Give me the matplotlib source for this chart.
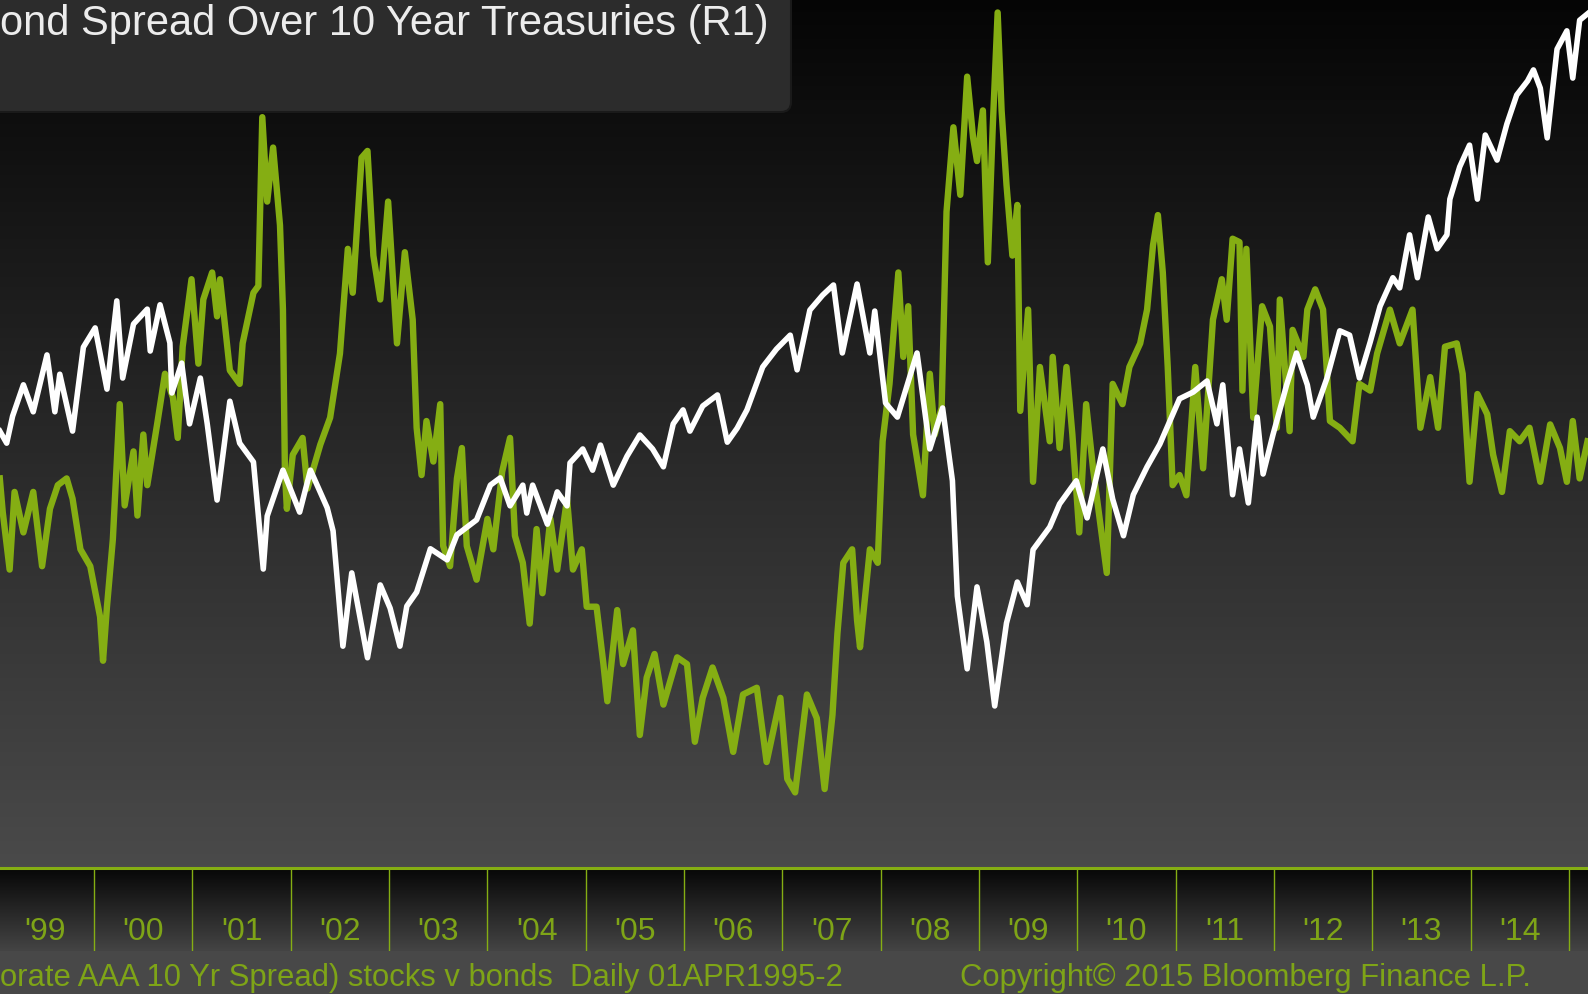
import numpy as np
import matplotlib.pyplot as plt
from matplotlib.colors import LinearSegmentedColormap
from matplotlib.patches import FancyBboxPatch

# S&P 500 style index (white line), decimal years
stock_years = [1999.04, 1999.11, 1999.17, 1999.28, 1999.38, 1999.52, 1999.60, 1999.65, 1999.78, 1999.89,
               2000.01, 2000.13, 2000.23, 2000.29, 2000.40, 2000.54, 2000.57, 2000.67, 2000.77, 2000.79, 2000.89, 2000.97,
               2001.08, 2001.15, 2001.25, 2001.38, 2001.48, 2001.62, 2001.72, 2001.76, 2001.92,
               2002.09, 2002.20, 2002.37, 2002.43, 2002.53, 2002.62, 2002.78, 2002.91,
               2003.01, 2003.11, 2003.18, 2003.28, 2003.42, 2003.59, 2003.69, 2003.89,
               2004.03, 2004.13, 2004.23, 2004.36, 2004.40, 2004.46, 2004.61, 2004.71, 2004.81, 2004.84, 2004.97,
               2005.07, 2005.15, 2005.28, 2005.42, 2005.55, 2005.68, 2005.79, 2005.89, 2005.99,
               2006.06, 2006.19, 2006.34, 2006.44, 2006.54, 2006.64, 2006.80, 2006.94,
               2007.08, 2007.15, 2007.28, 2007.41, 2007.52, 2007.61, 2007.76, 2007.89, 2007.94,
               2008.05, 2008.17, 2008.37, 2008.50, 2008.63, 2008.73, 2008.78, 2008.88, 2008.98,
               2009.08, 2009.16, 2009.28, 2009.39, 2009.49, 2009.55, 2009.72, 2009.82, 2009.99,
               2010.10, 2010.26, 2010.36, 2010.47, 2010.57, 2010.71, 2010.84,
               2011.04, 2011.18, 2011.32, 2011.42, 2011.48, 2011.58, 2011.65, 2011.74, 2011.83, 2011.89, 2011.99,
               2012.13, 2012.23, 2012.34, 2012.40, 2012.54, 2012.67, 2012.77, 2012.87, 2012.98,
               2013.08, 2013.21, 2013.28, 2013.38, 2013.46, 2013.57, 2013.66, 2013.76, 2013.79, 2013.89, 2013.99,
               2014.07, 2014.15, 2014.27, 2014.37, 2014.47, 2014.58, 2014.64, 2014.71, 2014.78, 2014.88, 2014.98,
               2015.04, 2015.11, 2015.20]
stock_vals = [1234, 1209, 1265, 1330, 1274, 1392, 1274, 1352, 1234, 1408,
              1448, 1321, 1504, 1344, 1456, 1487, 1400, 1496, 1417, 1313, 1375, 1249,
              1344, 1249, 1091, 1296, 1209, 1170, 948, 1058, 1153,
              1066, 1153, 1075, 1027, 788, 940, 764, 915,
              867, 788, 871, 900, 990, 967, 1019, 1050,
              1122, 1137, 1079, 1122, 1064, 1122, 1041, 1108, 1079, 1168, 1197,
              1153, 1205, 1122, 1182, 1226, 1197, 1160, 1249, 1278,
              1234, 1286, 1309, 1211, 1240, 1278, 1367, 1404,
              1433, 1361, 1485, 1516, 1537, 1396, 1539, 1396, 1483,
              1292, 1263, 1396, 1197, 1282, 1131, 892, 741, 911,
              797, 664, 836, 921, 874, 988, 1035, 1083, 1131,
              1054, 1197, 1093, 1017, 1102, 1160, 1207,
              1301, 1315, 1338, 1249, 1330, 1102, 1197, 1085, 1263, 1145, 1226,
              1330, 1396, 1330, 1263, 1344, 1442, 1433, 1344, 1419,
              1493, 1552, 1531, 1641, 1552, 1678, 1612, 1641, 1715, 1782, 1827,
              1715, 1848, 1796, 1871, 1931, 1960, 1983, 1945, 1842, 2026, 2064,
              1966, 2086, 2101]

# AAA corporate bond spread over 10y treasuries, bp (green line, R1)
spread_years = [1999.04, 1999.07, 1999.14, 1999.19, 1999.28, 1999.38, 1999.47, 1999.55, 1999.63, 1999.72, 1999.78, 1999.86, 1999.96,
                2000.06, 2000.09, 2000.13, 2000.19, 2000.26, 2000.31, 2000.40, 2000.44, 2000.50, 2000.54, 2000.64, 2000.72, 2000.80, 2000.85, 2000.90, 2000.99,
                2001.06, 2001.11, 2001.20, 2001.25, 2001.28, 2001.38, 2001.48, 2001.51, 2001.62, 2001.67, 2001.71, 2001.76, 2001.82, 2001.89, 2001.92, 2001.94, 2001.96,
                2002.02, 2002.12, 2002.17, 2002.30, 2002.40, 2002.50, 2002.58, 2002.63, 2002.72, 2002.78, 2002.84, 2002.91, 2002.99,
                2003.08, 2003.16, 2003.24, 2003.28, 2003.33, 2003.38, 2003.45, 2003.52, 2003.55, 2003.62, 2003.69, 2003.74, 2003.79, 2003.89,
                2004.00, 2004.06, 2004.15, 2004.23, 2004.28, 2004.36, 2004.43, 2004.50, 2004.56, 2004.64, 2004.71, 2004.81, 2004.87, 2004.96,
                2005.01, 2005.11, 2005.18, 2005.22, 2005.32, 2005.38, 2005.48, 2005.55, 2005.62, 2005.70, 2005.79, 2005.93,
                2006.03, 2006.11, 2006.19, 2006.29, 2006.40, 2006.50, 2006.60, 2006.74, 2006.84, 2006.98,
                2007.05, 2007.13, 2007.25, 2007.35, 2007.43, 2007.51, 2007.56, 2007.62, 2007.71, 2007.76, 2007.79, 2007.89, 2007.97,
                2008.02, 2008.09, 2008.18, 2008.23, 2008.28, 2008.33, 2008.43, 2008.50, 2008.55, 2008.62, 2008.67, 2008.74, 2008.81, 2008.88, 2008.94, 2008.98,
                2009.04, 2009.09, 2009.14, 2009.19, 2009.23, 2009.28, 2009.34, 2009.39, 2009.42, 2009.50, 2009.55, 2009.62, 2009.72, 2009.75, 2009.82, 2009.89, 2009.95,
                2010.02, 2010.09, 2010.16, 2010.30, 2010.36, 2010.46, 2010.53, 2010.64, 2010.71, 2010.77, 2010.82, 2010.87, 2010.92, 2010.97,
                2011.04, 2011.11, 2011.20, 2011.28, 2011.38, 2011.47, 2011.52, 2011.58, 2011.65, 2011.68, 2011.72, 2011.79, 2011.88, 2011.96,
                2012.03, 2012.06, 2012.16, 2012.19, 2012.30, 2012.34, 2012.42, 2012.50, 2012.57, 2012.67, 2012.80, 2012.87, 2012.98,
                2013.05, 2013.18, 2013.28, 2013.41, 2013.49, 2013.59, 2013.67, 2013.74, 2013.86, 2013.92, 2013.99,
                2014.07, 2014.17, 2014.23, 2014.32, 2014.40, 2014.50, 2014.60, 2014.71, 2014.81, 2014.91, 2014.98,
                2015.04, 2015.11, 2015.19]
spread_vals = [151, 141, 124, 147, 135, 147, 125, 142, 149, 151, 145, 130, 125,
               110, 97, 113, 133, 173, 143, 159, 140, 164, 149, 167, 182, 175, 163, 190, 210,
               185, 204, 212, 199, 210, 183, 179, 191, 206, 208, 258, 233, 249, 226, 201, 153, 142,
               158, 163, 148, 161, 169, 188, 219, 206, 246, 248, 217, 204, 233,
               191, 218, 198, 166, 152, 168, 156, 173, 131, 125, 151, 160, 131, 121,
               139, 130, 153, 163, 134, 126, 108, 136, 117, 139, 124, 145, 124, 130,
               113, 113, 96, 85, 112, 96, 106, 75, 92, 99, 84, 98,
               96, 73, 86, 95, 86, 70, 87, 89, 67, 86,
               62, 58, 87, 80, 59, 81, 105, 126, 130, 109, 101, 130, 126,
               162, 179, 212, 187, 202, 164, 146, 182, 164, 172, 230, 255, 235, 270, 252, 245,
               260, 215, 255, 289, 260, 238, 217, 232, 171, 201, 150, 184, 162, 187, 160, 184, 164,
               135, 173, 154, 123, 179, 173, 184, 191, 201, 220, 229, 212, 184, 149,
               152, 146, 184, 154, 198, 210, 198, 222, 221, 177, 219, 169, 202, 196,
               166, 204, 165, 195, 187, 201, 207, 201, 168, 166, 162, 179, 177,
               188, 201, 191, 201, 166, 181, 166, 190, 191, 182, 150,
               176, 170, 158, 147, 165, 162, 166, 150, 167, 160, 150,
               168, 151, 162]

year_labels = ["'99", "'00", "'01", "'02", "'03", "'04", "'05", "'06", "'07",
               "'08", "'09", "'10", "'11", "'12", "'13", "'14"]

GREEN = '#85ae13'
LABEL_GREEN = '#7ea417'
FONT = ['Liberation Sans', 'DejaVu Sans']
x0, x1 = 1999.042, 2015.195

fig = plt.figure(figsize=(15.88, 9.95), dpi=100)
fig.patch.set_facecolor('#484848')

# main plot area
ax = fig.add_axes([0, 0.1266, 1, 0.8734])
grad = np.linspace(0, 1, 256).reshape(-1, 1)
bg = LinearSegmentedColormap.from_list('bg', ['#4a4a4a', '#050505'])
ax.imshow(grad, extent=[x0, x1, 35.6, 293], origin='lower', aspect='auto', cmap=bg, zorder=0)
ax.plot(spread_years, spread_vals, color=GREEN, lw=4.6, zorder=2)
ax.set_xlim(x0, x1)
ax.set_ylim(35.6, 293)
ax.axis('off')

ax2 = ax.twinx()
ax2.plot(stock_years, stock_vals, color='white', lw=4.0, zorder=3)
ax2.set_ylim(328, 2130)
ax2.set_xlim(x0, x1)
ax2.axis('off')

# date axis bar
bar = fig.add_axes([0, 0.0432, 1, 0.0834])
bar_cm = LinearSegmentedColormap.from_list('bar', ['#444444', '#070707'])
bar.imshow(grad, extent=[x0, x1, 0, 1], origin='lower', aspect='auto', cmap=bar_cm, zorder=0)
bar.set_xlim(x0, x1)
bar.set_ylim(0, 1)
bar.axis('off')
bar.axhline(1, color=GREEN, lw=2.2, clip_on=False)
for yr in range(2000, 2016):
    bar.axvline(yr, color=GREEN, lw=1)
for i, lab in enumerate(year_labels):
    bar.text(1999.5 + i, 0.24, lab, color=LABEL_GREEN, fontsize=23, family=FONT,
             ha='center', va='center')

# footer
fig.text(0.0, 0.017, "orate AAA 10 Yr Spread) stocks v bonds  Daily 01APR1995-2",
         color=LABEL_GREEN, fontsize=22.3, family=FONT, ha='left', va='center')
fig.text(0.6045, 0.017, "Copyright\u00a9 2015 Bloomberg Finance L.P.",
         color=LABEL_GREEN, fontsize=22.3, family=FONT, ha='left', va='center')

# legend box (top left)
box = FancyBboxPatch((-0.5, 8.82), 8.41, 2.0, boxstyle='round,pad=0,rounding_size=0.1',
                     transform=fig.dpi_scale_trans, fc='#2c2c2c', ec='#1a1a1a', lw=1.5, zorder=5)
fig.add_artist(box)
fig.text(0.0, 1 - 24 / 995, "ond Spread Over 10 Year Treasuries (R1)", color='#ececec',
         fontsize=30, family=FONT, ha='left', va='center', zorder=6)

fig.savefig('out.png', dpi=100, facecolor=fig.get_facecolor())
